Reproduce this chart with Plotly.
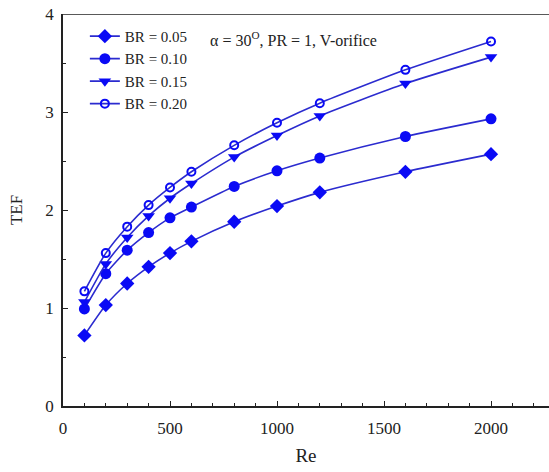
import plotly.graph_objects as go

re_vals = [100, 200, 300, 400, 500, 600, 800, 1000, 1200, 1600, 2000]
tef_005 = [0.72, 1.03, 1.25, 1.42, 1.56, 1.68, 1.88, 2.04, 2.18, 2.39, 2.57]
tef_010 = [0.99, 1.35, 1.59, 1.77, 1.92, 2.03, 2.24, 2.40, 2.53, 2.75, 2.93]
tef_015 = [1.06, 1.45, 1.72, 1.94, 2.12, 2.27, 2.54, 2.76, 2.96, 3.29, 3.56]
tef_020 = [1.17, 1.56, 1.83, 2.05, 2.23, 2.39, 2.66, 2.89, 3.09, 3.43, 3.72]
series_names = ["BR = 0.05", "BR = 0.10", "BR = 0.15", "BR = 0.20"]
symbols = ["diamond", "circle", "triangle-down", "circle-open"]

line_color = "#2b2bcf"
mark_color = "#0a0af5"
serif = "Liberation Serif"
txt = "#222222"

fig = go.Figure()
for name, ys, sym in zip(series_names, [tef_005, tef_010, tef_015, tef_020], symbols):
    fig.add_trace(go.Scatter(
        x=re_vals, y=ys, name=name, mode="lines+markers",
        line=dict(color=line_color, width=1.6, shape="spline", smoothing=0.6),
        marker=dict(symbol=sym, size=11 if sym != "circle-open" else 8,
                    color=mark_color, line=dict(color=mark_color, width=2 if sym == "circle-open" else 0)),
    ))

fig.add_shape(type="line", xref="paper", yref="y", x0=0, x1=1, y0=4, y1=4,
              line=dict(color=txt, width=1.5))

fig.add_annotation(xref="paper", yref="paper", x=0.299, y=0.935, xanchor="left", yanchor="middle",
                   text="α = 30<sup>O</sup>, PR = 1, V-orifice", showarrow=False,
                   font=dict(family=serif, size=16, color=txt))

fig.update_layout(
    width=549, height=472,
    margin=dict(l=63, r=0, t=14, b=66),
    paper_bgcolor="white", plot_bgcolor="white",
    font=dict(family=serif, size=17, color=txt),
    showlegend=True,
    legend=dict(x=0.045, y=0.985, xanchor="left", yanchor="top",
                bgcolor="rgba(0,0,0,0)", font=dict(size=15, family=serif, color=txt),
                tracegroupgap=0, itemwidth=30),
    xaxis=dict(range=[0, 2271], tickvals=[0, 500, 1000, 1500, 2000], automargin=False,
               showgrid=False, zeroline=False, showline=True, linecolor=txt, linewidth=1.5,
               ticks="inside", ticklen=5, tickcolor=txt,
               tickfont=dict(family=serif, size=17, color=txt),
               minor=dict(dtick=100, tick0=0, ticks="inside", ticklen=3, tickcolor=txt),
               title=dict(text="Re", font=dict(family=serif, size=19, color=txt), standoff=12),
               ticklabelstandoff=6),
    yaxis=dict(range=[0, 4], tickvals=[0, 1, 2, 3, 4], automargin=False,
               showgrid=False, zeroline=False, showline=True, linecolor=txt, linewidth=1.5,
               ticks="inside", ticklen=5, tickcolor=txt,
               tickfont=dict(family=serif, size=17, color=txt),
               minor=dict(dtick=0.5, tick0=0, ticks="inside", ticklen=3, tickcolor=txt),
               title=dict(text="TEF", font=dict(family=serif, size=17, color=txt), standoff=18),
               ticklabelstandoff=4),
)

# remove the browser's default 8px body margin so the figure fills the window
fig.write_html("out.html", config={"displayModeBar": False},
               post_script="document.body.style.margin='0';document.body.style.overflow='hidden';")
